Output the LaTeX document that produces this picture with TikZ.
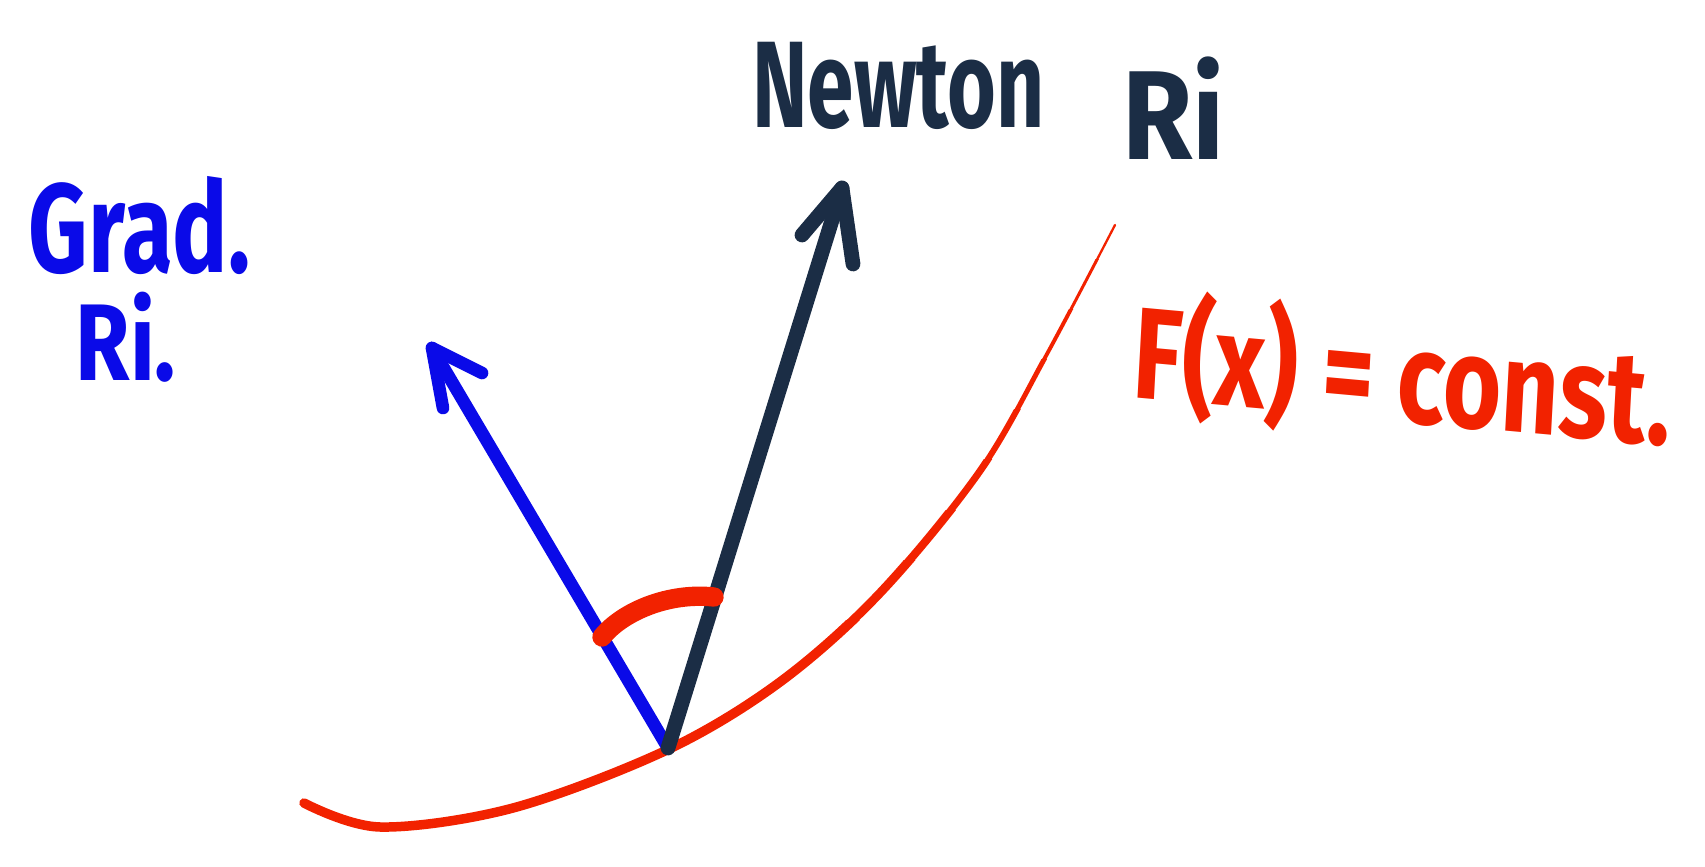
\documentclass[tikz,border=0pt]{standalone}
\usepackage{fontspec}
\setmainfont{Fira Sans}
\definecolor{gblue}{HTML}{0A0AE8}
\definecolor{nnavy}{HTML}{1B2D45}
\definecolor{fred}{HTML}{F22200}
\begin{document}
\begin{tikzpicture}[x=0.01cm,y=-0.01cm,line cap=round,line join=round,
  fxpath/.style={insert path={plot[smooth,tension=0.55] coordinates {(304,803) (380,827) (513,808) (667,750) (780,682) (880,593) (980,471) (1047,354) (1115,225)}}},
  lbl/.style={inner sep=0pt,anchor=base west,font=\bfseries},
  gvec/.style={draw=gblue,line width=3.6pt},
  nvec/.style={draw=nnavy,line width=4.2pt}]
\useasboundingbox (0,0) rectangle (1705,867);
% level curve, tapering towards its upper end
\foreach \ya/\yb/\w in {620/867/2.7, 560/620/2.5, 510/560/2.3, 460/510/2.0, 410/460/1.7, 360/410/1.4, 310/360/1.1, 260/310/0.85, 0/260/0.65}{
  \begin{scope}
    \clip (0,\ya) rectangle (1705,\yb);
    \draw[fred,line width=\w pt,fxpath];
  \end{scope}
}
% points
\coordinate (O) at (668,748);
\coordinate (gtip) at (432,348);
\coordinate (gb1) at (443,408);
\coordinate (gb2) at (482,373);
\coordinate (ntip) at (842,188);
\coordinate (nb1) at (802,235);
\coordinate (nb2) at (853,264);
\coordinate (a1) at (602,637);
\coordinate (a2) at (714,597);
% gradient direction
\draw[gvec] (O) -- (gtip);
\draw[gvec] (gb1) -- (gtip) -- (gb2);
% Newton direction
\draw[nvec] (O) -- (ntip);
\draw[nvec] (nb1) -- (ntip) -- (nb2);
% angle mark
\draw[fred,line width=5.5pt] (a1) .. controls (622,612) and (668,592) .. (a2);
% labels
\node[lbl,text=nnavy,font=\bfseries\fontsize{35}{40}\selectfont,xscale=0.68] (newton) at (752,128) {Newton};
\node[lbl,text=nnavy,font=\bfseries\fontsize{36}{40}\selectfont,xscale=0.9] (newtonri) at (1122,160) {Ri};
\node[lbl,text=gblue,font=\bfseries\fontsize{36}{40}\selectfont,xscale=0.73] (grad) at (28,273) {Grad.};
\node[lbl,text=gblue,font=\bfseries\fontsize{31}{36}\selectfont,xscale=0.81] (gradri) at (75,380) {Ri.};
\node[lbl,text=fred,font=\bfseries\fontsize{37}{40}\selectfont,xscale=0.77,rotate=-4] (fx) at (1131,397) {F(x) = const.};
\end{tikzpicture}
\end{document}
